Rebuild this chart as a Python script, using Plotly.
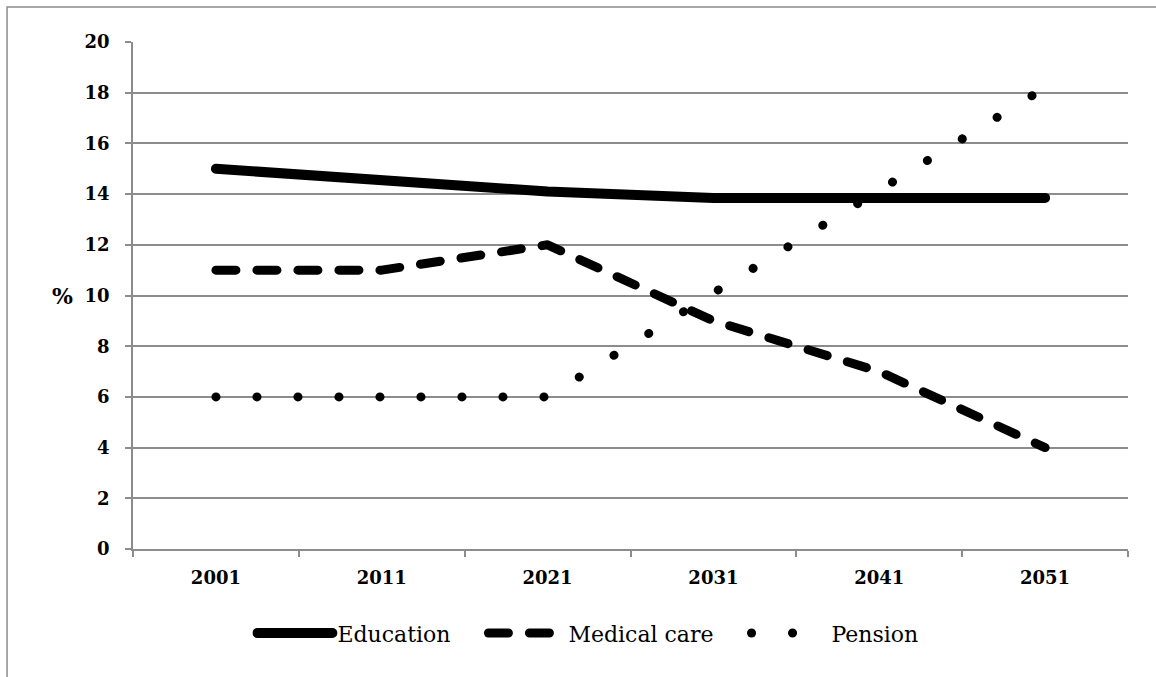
"""Share of spending by category, 2001-2051 (line chart)."""

import plotly.graph_objects as go

# Data
years = ["2001", "2011", "2021", "2031", "2041", "2051"]
education = [15.0, 14.55, 14.1, 13.85, 13.85, 13.85]
medical_care = [11.0, 11.0, 12.0, 9.0, 7.0, 4.0]
pension = [6.0, 6.0, 6.0, 10.1, 14.1, 18.2]
y_ticks = [0, 2, 4, 6, 8, 10, 12, 14, 16, 18, 20]

FONT = "DejaVu Serif"
GRID = "#8c8c8c"
PAD = "\u00a0" * 4  # extra room after each legend entry

# Plotly has no linecap option, round the line ends so dashes/dots look like Excel's;
# also drop the default body margin so the figure sits at the page corner
PAGE_FIX = (
    "document.body.style.margin = '0';"
    "var s = document.createElement('style');"
    "s.textContent = 'path.js-line {stroke-linecap: round; stroke-linejoin: round;}';"
    "document.head.appendChild(s);"
)

fig = go.Figure()

fig.add_trace(
    go.Scatter(
        x=years,
        y=education,
        mode="lines",
        name="Education" + PAD,
        line={"color": "black", "width": 10},
    )
)
fig.add_trace(
    go.Scatter(
        x=years,
        y=medical_care,
        mode="lines",
        name="Medical care" + PAD,
        line={"color": "black", "width": 9, "dash": "20px,21px"},
    )
)
fig.add_trace(
    go.Scatter(
        x=years,
        y=pension,
        mode="lines",
        name="Pension",
        line={"color": "black", "width": 9, "dash": "0.1px,40.9px"},
    )
)

# "%" label beside the y axis, kept horizontal
fig.add_annotation(
    x=-0.071,
    y=10,
    xref="paper",
    yref="y",
    xanchor="center",
    yanchor="middle",
    text="<b>%</b>",
    showarrow=False,
    font={"family": FONT, "size": 22, "color": "black"},
)

# outer chart frame (runs off the right and bottom of the picture)
fig.add_shape(
    type="rect",
    xref="paper",
    yref="paper",
    x0=-0.1266,
    x1=1.2,
    y0=-0.6,
    y1=1.069,
    line={"color": "#8c8c8c", "width": 1.5},
)

fig.update_layout(
    width=1156,
    height=677,
    margin={"l": 133, "r": 28, "t": 42, "b": 128},
    paper_bgcolor="white",
    plot_bgcolor="white",
    font={"family": FONT, "color": "black"},
    showlegend=True,
    legend={
        "orientation": "h",
        "x": 0.120,
        "xanchor": "left",
        "y": -0.166,
        "yanchor": "middle",
        "font": {"family": FONT, "size": 22, "color": "black"},
        "itemwidth": 75,
    },
    xaxis={
        "type": "category",
        "range": [-0.5, 5.5],
        "showgrid": False,
        "showline": True,
        "linecolor": GRID,
        "linewidth": 1.5,
        "ticks": "outside",
        "tickson": "boundaries",
        "ticklen": 6,
        "tickcolor": GRID,
        "tickwidth": 1.5,
        "tickfont": {"family": FONT, "size": 18, "color": "black", "weight": "bold"},
        "ticklabelstandoff": 12,
    },
    yaxis={
        "range": [0, 20],
        "tickvals": y_ticks,
        "showgrid": True,
        "gridcolor": GRID,
        "gridwidth": 1.5,
        "zeroline": False,
        "showline": True,
        "linecolor": GRID,
        "linewidth": 1.5,
        "ticks": "outside",
        "ticklen": 6,
        "tickcolor": GRID,
        "tickwidth": 1.5,
        "tickfont": {"family": FONT, "size": 18, "color": "black", "weight": "bold"},
        "ticklabelstandoff": 12,
    },
)

fig.write_html("out.html", post_script=PAGE_FIX, config={"displayModeBar": False})
